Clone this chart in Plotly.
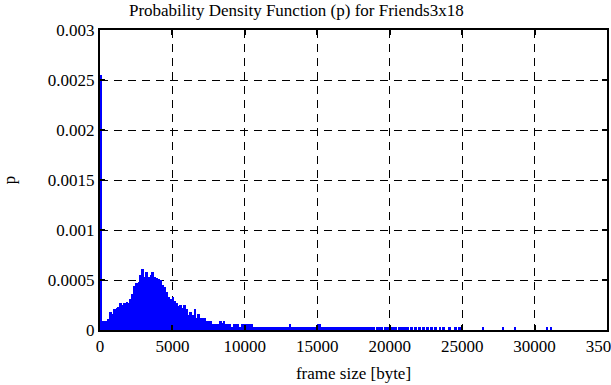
import plotly.graph_objects as go

# ---- data ----
BIN = 137.5  # bytes per histogram bin

# probability per bin, bins start at 0 bytes
p_dense = [
    0.00255, 0.00009, 0.00009, 0.00009, 0.00011, 0.00018, 0.00016, 0.00021, 0.00022, 0.00023,
    0.00027, 0.00025, 0.00027, 0.00028, 0.00027, 0.00031, 0.00036, 0.00044, 0.00047, 0.00048,
    0.00055, 0.00061, 0.00053, 0.00058, 0.00053, 0.00055, 0.00058, 0.00053, 0.00052, 0.00051,
    0.00050, 0.00045, 0.00043, 0.00038, 0.00033, 0.00031, 0.00033, 0.00029, 0.00027, 0.00024,
    0.00025, 0.00022, 0.00025, 0.00021, 0.00015, 0.00018, 0.00015, 0.00021, 0.00012, 0.00016,
    0.00012, 0.00012, 0.00012, 0.00009, 0.00009, 0.00009, 0.00006, 0.00006, 0.00006, 0.00006,
    0.00009, 0.000067, 0.00009, 0.00006, 0.00006, 0.00006, 0.000033, 0.00006, 0.00006, 0.00006,
    0.000035, 0.000065, 0.000065, 0.00006, 0.00006, 0.00006, 0.00006, 0.000033, 0.000033, 0.000033,
    0.000033, 0.000033, 0.000033, 0.000033, 0.000033, 0.000033, 0.000033, 0.000033, 0.000033, 0.000033,
    0.00003, 0.00003, 0.00003, 0.00003, 0.00003, 0.00006, 0.00003, 0.00003, 0.00003, 0.00003,
    0.00003, 0.00003, 0.00003, 0.00003, 0.00003, 0.00003, 0.00003, 0.00003, 0.00003, 0.00006,
    0.00006, 0.00003, 0.00003, 0.00003, 0.00003, 0.00003, 0.00003, 0.00003, 0.00003, 0.00003,
    0.00003, 0.00003, 0.00003, 0.00003, 0.00003, 0.00003, 0.00003, 0.00003, 0.00003, 0.00003,
    0.00003, 0.00003, 0.00003, 0.00003, 0.00003, 0.00003, 0.00003, 0.00003, 0.0, 0.00003,
    0.00003, 0.00003, 0.0, 0.00003, 0.00003, 0.00003, 0.00003, 0.00003, 0.00003, 0.0,
]

# sparse tail: bin start (bytes) and probability
tail_sizes = [20625, 20762, 20900, 21037, 21175, 21450, 21725, 22000, 22275, 22550,
              22825, 23100, 23375, 23650, 24062, 24475, 24750, 26400, 27775, 28600,
              30800, 31075]
tail_p = [0.00003, 0.00003, 0.00003, 0.00003, 0.00003, 0.00003, 0.00003, 0.00003, 0.00003, 0.00003,
          0.00003, 0.00003, 0.00003, 0.00003, 0.00003, 0.00003, 0.00003, 0.00003, 0.00003, 0.00003,
          0.00003, 0.00003]

x_ticks = [0, 5000, 10000, 15000, 20000, 25000, 30000, 35000]
x_labels = ["0", "5000", "10000", "15000", "20000", "25000", "30000", "35000"]
y_ticks = [0, 0.0005, 0.001, 0.0015, 0.002, 0.0025, 0.003]
y_labels = ["0", "0.0005", "0.001", "0.0015", "0.002", "0.0025", "0.003"]

# ---- figure ----
sizes = [i * BIN for i in range(len(p_dense))] + tail_sizes
probs = p_dense + tail_p
centers = [s + BIN / 2 for s in sizes]

FONT = "Liberation Serif"

fig = go.Figure(go.Bar(
    x=centers, y=probs, width=BIN,
    marker=dict(color="#0000ff", line=dict(width=0)),
    hoverinfo="x+y",
))

axis_common = dict(
    showline=True, linecolor="black", linewidth=2, mirror="ticks",
    ticks="inside", ticklen=5, tickwidth=1.5, tickcolor="black",
    showgrid=True, gridcolor="black", gridwidth=1, griddash="8px,6px",
    zeroline=False, automargin=False, ticklabeloverflow="allow",
    tickfont=dict(family=FONT, size=17, color="black"),
)

fig.update_layout(
    width=611, height=385,
    margin=dict(l=100, r=4, t=30, b=55),
    paper_bgcolor="white", plot_bgcolor="white",
    bargap=0,
    showlegend=False,
    title=dict(text="Probability Density Function (p) for Friends3x18",
               x=0.485, xanchor="center", y=0.975, yanchor="middle",
               font=dict(family=FONT, size=17, color="black")),
    xaxis=dict(range=[0, 35000], tickvals=x_ticks, ticktext=x_labels,
               title=dict(text="frame size [byte]", font=dict(family=FONT, size=17, color="black"), standoff=12),
               **axis_common),
    yaxis=dict(range=[0, 0.003], tickvals=y_ticks, ticktext=y_labels,
               title=dict(text="p", font=dict(family=FONT, size=17, color="black"), standoff=29),
               **axis_common),
)

fig.write_html(
    "out.html",
    config={"displayModeBar": False},
    post_script="document.body.style.margin='0';document.body.style.padding='0';"
                "document.body.style.overflow='hidden';",
)
